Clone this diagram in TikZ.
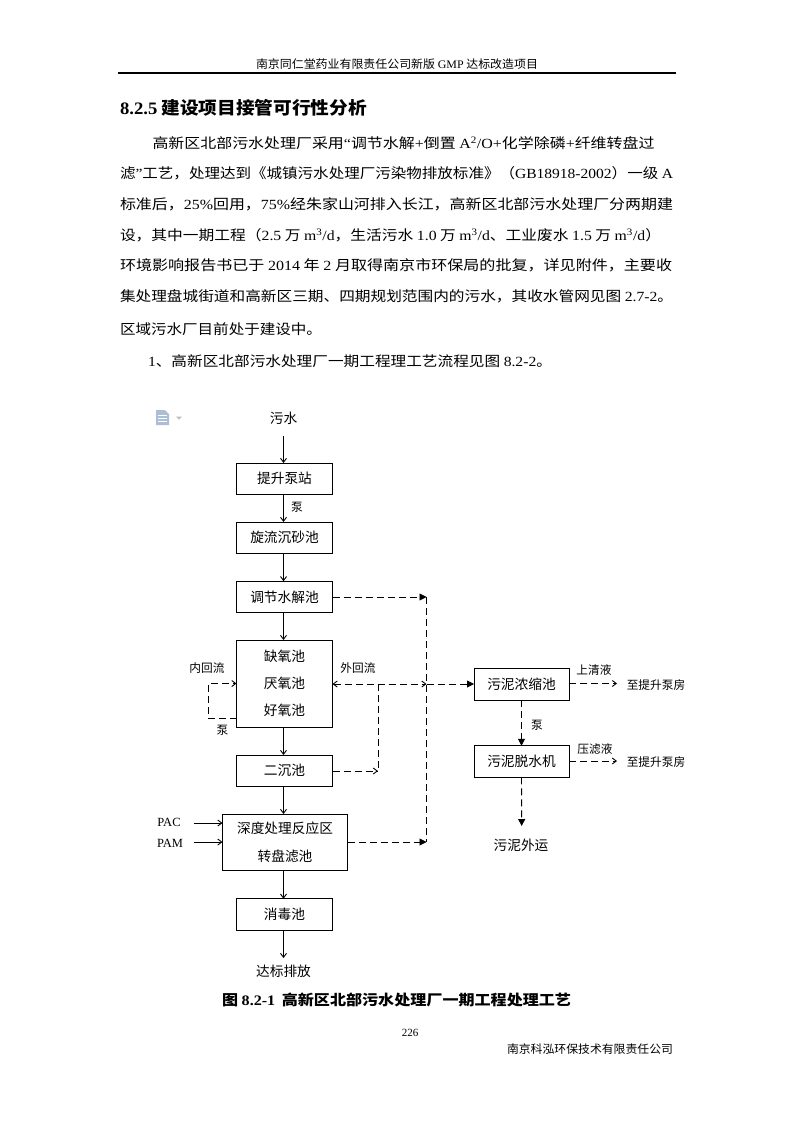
\documentclass[tikz,border=0pt]{standalone}
\usepackage{graphicx}
\usepackage{fontspec}
\setmainfont{Liberation Serif}
\newfontfamily\cjk{Noto Sans CJK SC}
\usetikzlibrary{arrows.meta}
\newcommand{\E}[1]{{\rmfamily #1}}
\newcommand{\fit}[2]{\resizebox{#1pt}{\height}{#2}}
\definecolor{iconblue}{RGB}{172,190,214}
\definecolor{icongrey}{RGB}{185,190,195}
\tikzset{
  x=1pt,y=-1pt,
  every node/.style={inner sep=0pt,outer sep=0pt},
  bodyline/.style={anchor=west,font=\cjk\fontsize{14}{16}\selectfont},
  boxn/.style={draw,line width=0.9pt,align=center,minimum width=96pt,minimum height=31.5pt,
     font=\cjk\fontsize{13.7}{27}\selectfont},
  lab/.style={font=\cjk\fontsize{13.7}{15}\selectfont},
  small/.style={font=\cjk\fontsize{11.7}{13}\selectfont},
  flow/.style={line width=0.9pt,-{Straight Barb[length=4pt,width=6pt]}},
  dflow/.style={line width=0.9pt,dash pattern=on 7pt off 4pt,-{Straight Barb[length=4pt,width=6pt]}},
  dfill/.style={line width=0.9pt,dash pattern=on 7pt off 4pt,-{Triangle[length=7pt,width=7pt]}},
  dline/.style={line width=0.9pt,dash pattern=on 7pt off 4pt},
}
\begin{document}
\begin{tikzpicture}
\useasboundingbox (0,0) rectangle (794,1123);
\fill[white] (0,0) rectangle (794,1123);
% page text
\node[anchor=west,font=\cjk\fontsize{11.5}{13}\selectfont] (hdr) at (256,64) {\fit{282}{南京同仁堂药业有限责任公司新版 \E{GMP} 达标改造项目}};
\coordinate (ruleL) at (118,73); \coordinate (ruleR) at (676,73);
\draw[line width=2pt] (ruleL) -- (ruleR);
\node[anchor=west,font=\cjk\bfseries\fontsize{17.5}{20}\selectfont] (head) at (120,108) {\fit{247}{\E{\bfseries 8.2.5} 建设项目接管可行性分析}};
\node[bodyline] (l1) at (152.5,143) {\fit{502}{高新区北部污水处理厂采用\E{“}调节水解\E{+}倒置 \E{A\textsuperscript{2}/O+}化学除磷\E{+}纤维转盘过}};
\node[bodyline] (l2) at (120,173) {\fit{553}{滤\E{”}工艺，处理达到《城镇污水处理厂污染物排放标准》（\E{GB18918-2002}）一级 \E{A}}};
\node[bodyline] (l3) at (120,204) {\fit{553}{标准后，\E{25\%}回用，\E{75\%}经朱家山河排入长江，高新区北部污水处理厂分两期建}};
\node[bodyline] (l4) at (120,235) {\fit{541}{设，其中一期工程（\E{2.5} 万 \E{m\textsuperscript{3}/d}，生活污水 \E{1.0} 万 \E{m\textsuperscript{3}/d}、工业废水 \E{1.5} 万 \E{m\textsuperscript{3}/d}）}};
\node[bodyline] (l5) at (120,265) {\fit{552}{环境影响报告书已于 \E{2014} 年 \E{2} 月取得南京市环保局的批复，详见附件，主要收}};
\node[bodyline] (l6) at (120,296) {\fit{553}{集处理盘城街道和高新区三期、四期规划范围内的污水，其收水管网见图 \E{2.7-2}。}};
\node[bodyline] (l7) at (120,329) {\fit{202}{区域污水厂目前处于建设中。}};
\node[bodyline] (l8) at (148,361) {\fit{404}{\E{1}、高新区北部污水处理厂一期工程理工艺流程见图 \E{8.2-2}。}};
\node[anchor=west,font=\cjk\bfseries\fontsize{14.5}{16}\selectfont] (cap) at (222,1000) {\fit{349}{图 \E{\bfseries 8.2-1}\hspace{6pt}高新区北部污水处理厂一期工程处理工艺}};
\node[font=\rmfamily\fontsize{11}{13}\selectfont] (pg) at (410,1033) {226};
\node[anchor=west,font=\cjk\fontsize{11.5}{13}\selectfont] (ftr) at (507,1049) {\fit{166}{南京科泓环保技术有限责任公司}};
% document icon
\fill[iconblue] (156,410) -- (165,410) -- (169,414) -- (169,425) -- (156,425) -- cycle;
\draw[white,line width=0.8pt] (158,415) -- (167,415) (158,418) -- (167,418) (158,421) -- (167,421);
\fill[icongrey] (176,416.5) -- (182,416.5) -- (179,419.5) -- cycle;
% left column
\coordinate (spine) at (283.5,0);
\node[lab] (src) at (283.5,418) {污水};
\node[boxn] (pump) at (284.5,478.75) {提升泵站};
\node[boxn] (grit) at (284.5,537.75) {旋流沉砂池};
\node[boxn] (hyd) at (284.5,597) {调节水解池};
\node[boxn,minimum height=87pt] (bio) at (284.5,683.5) {缺氧池\\厌氧池\\好氧池};
\node[boxn] (sec) at (284.5,770.75) {二沉池};
\node[boxn,minimum width=125pt,minimum height=56.5pt,font=\cjk\fontsize{13.7}{28}\selectfont] (deep) at (285,842.25) {深度处理反应区\\转盘滤池};
\node[boxn] (dis) at (284.5,914.5) {消毒池};
\node[lab] (out) at (283.5,971) {达标排放};
\coordinate (srcA) at (283.5,436);
\coordinate (outA) at (283.5,958);
\draw[flow] (srcA) -- (pump.north -| spine);
\draw[flow] (pump.south -| spine) -- (grit.north -| spine);
\draw[flow] (grit.south -| spine) -- (hyd.north -| spine);
\draw[flow] (hyd.south -| spine) -- (bio.north -| spine);
\draw[flow] (bio.south -| spine) -- (sec.north -| spine);
\draw[flow] (sec.south -| spine) -- (deep.north -| spine);
\draw[flow] (deep.south -| spine) -- (dis.north -| spine);
\draw[flow] (dis.south -| spine) -- (outA);
\node[small] (pb1) at (297,507) {泵};
% inner return
\coordinate (irA) at (236.5,718); \coordinate (irB) at (208,718);
\coordinate (irC) at (208,683.5); \coordinate (irD) at (236.5,683.5);
\draw[dflow] (irA) -- (irB) -- (irC) -- (irD);
\node[small] (inn) at (207,668) {内回流};
\node[small] (pb2) at (222.5,730) {泵};
% dosing
\node[font=\rmfamily\fontsize{12.5}{14}\selectfont] (pac) at (169,822) {PAC};
\node[font=\rmfamily\fontsize{12.5}{14}\selectfont] (pam) at (170,843) {PAM};
\coordinate (pacA) at (194,823); \coordinate (pamA) at (194,842);
\draw[flow] (pacA) -- (pacA -| deep.west);
\draw[flow] (pamA) -- (pamA -| deep.west);
% right bus
\coordinate (busT) at (426.5,597);
\coordinate (busM) at (426.5,684);
\coordinate (busB) at (426.5,842);
\coordinate (bus2M) at (378,684);
\coordinate (bus2B) at (378,771);
\draw[dfill] (hyd.east) -- (busT);
\draw[dline] (busT) -- (busB);
\draw[dfill] (deep.east |- busB) -- (busB);
\draw[dflow,<->,>={Straight Barb[length=4pt,width=6pt]}] (bio.east |- busM) -- (busM);
\draw[dline] (bus2M) -- (bus2B);
\draw[dflow] (sec.east |- bus2B) -- (bus2B);
\node[small] (ext) at (358,668) {外回流};
% sludge
\node[boxn,minimum width=95pt] (thk) at (521.5,684.5) {污泥浓缩池};
\node[boxn,minimum width=95pt] (dew) at (521.5,761.5) {污泥脱水机};
\node[lab] (sludge) at (521,845) {污泥外运};
\coordinate (slA) at (521.7,826);
\draw[dfill] (busM) -- (thk.west |- busM);
\draw[dfill] (thk.south) -- (dew.north);
\draw[dfill] (dew.south) -- (slA);
\node[small] (pb3) at (537,725) {泵};
\node[small] (sup) at (594,670) {上清液};
\node[small] (fil) at (595,749) {压滤液};
\node[small] (to1) at (656,685) {至提升泵房};
\node[small] (to2) at (656,762) {至提升泵房};
\coordinate (supA) at (617,683.5); \coordinate (filA) at (617,761);
\draw[dflow] (thk.east |- supA) -- (supA);
\draw[dflow] (dew.east |- filA) -- (filA);
\end{tikzpicture}
\end{document}
